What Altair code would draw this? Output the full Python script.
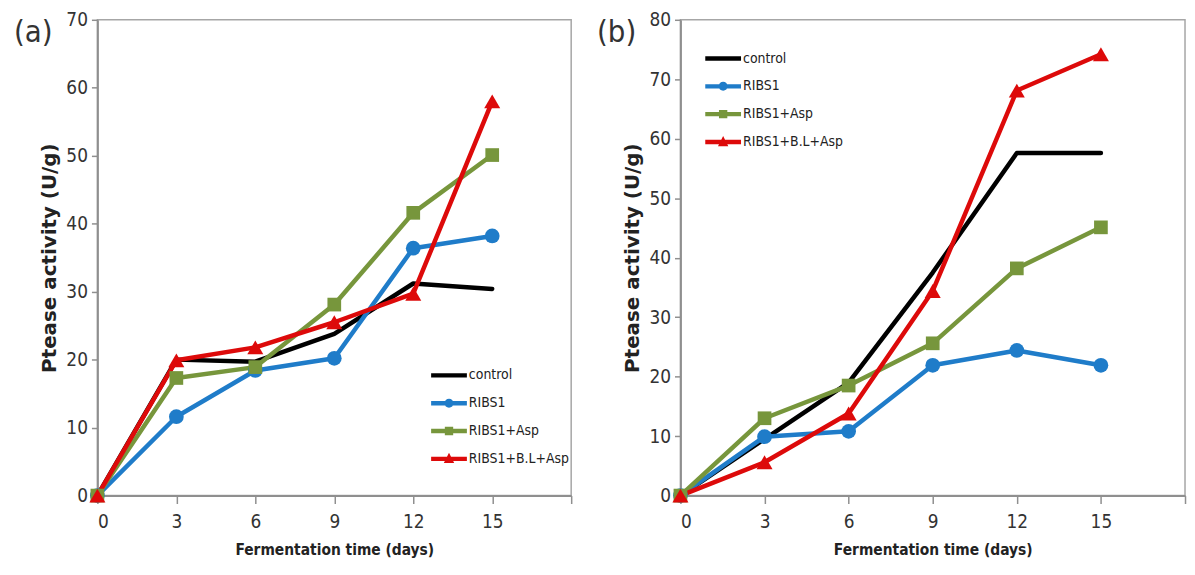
import altair as alt
import pandas as pd

# ---- data ----
days = [0, 3, 6, 9, 12, 15]
series_names = ["control", "RIBS1", "RIBS1+Asp", "RIBS1+B.L+Asp"]
series_colors = ["#000000", "#1f7cc9", "#77963c", "#dd0a0a"]
panel_labels = ["(a)", "(b)"]
x_ticks = [0, 3, 6, 9, 12, 15, 18]

a_control = [0, 20.0, 19.7, 23.8, 31.2, 30.4]
a_ribs1 = [0, 11.6, 18.4, 20.2, 36.4, 38.2]
a_asp = [0, 17.3, 18.9, 28.1, 41.6, 50.1]
a_bl = [0, 19.9, 21.8, 25.5, 29.7, 58.0]

b_control = [0, 9.5, 19.0, 37.5, 57.6, 57.6]
b_ribs1 = [0, 9.9, 10.8, 21.9, 24.4, 21.9]
b_asp = [0, 13.0, 18.5, 25.6, 38.2, 45.1]
b_bl = [0, 5.6, 13.8, 34.4, 68.1, 74.2]

NARROW = "Liberation Sans Narrow, DejaVu Sans Condensed, Arial Narrow, Liberation Sans, sans-serif"
WIDE_BOLD = "DejaVu Sans, Verdana, sans-serif"

# legend symbols: a thick line with the series' marker
LEG_LINE = "M-1.8,-0.22H1.8V0.22H-1.8Z"
legend_paths = [
    LEG_LINE,
    LEG_LINE + "M0.45,0A0.45,0.45,0,1,1,-0.45,0A0.45,0.45,0,1,1,0.45,0Z",
    LEG_LINE + "M-0.42,-0.42H0.42V0.42H-0.42Z",
    LEG_LINE + "M0,-0.6L0.52,0.42H-0.52Z",
]
marker_shapes = {"control": None, "RIBS1": ("circle", 220), "RIBS1+Asp": ("square", 190),
                 "RIBS1+B.L+Asp": ("triangle-up", 260)}


def long_df(values_by_series):
    rows = []
    for name, vals in zip(series_names, values_by_series):
        for d, v in zip(days, vals):
            rows.append({"day": d, "value": v, "series": name})
    return pd.DataFrame(rows)


def panel(df, ymax, label, leg_x, leg_y, width, height):
    x = alt.X(
        "day:Q",
        scale=alt.Scale(domain=[0, 18], nice=False),
        axis=alt.Axis(
            values=x_ticks,
            labelExpr="datum.value > 15 ? '' : datum.label",
            grid=False,
            title="Fermentation time (days)",
            titleFont=NARROW,
            titleFontSize=15.5,
            titleFontWeight="bold",
            titleColor="#222222",
            titlePadding=11,
            labelFont=NARROW,
            labelFontSize=19,
            labelColor="#333333",
            labelPadding=9,
            tickSize=8,
            tickColor="#8f8f8f",
            tickWidth=1.5,
            domainColor="#8f8f8f",
            domainWidth=2,
        ),
    )
    y = alt.Y(
        "value:Q",
        scale=alt.Scale(domain=[0, ymax], nice=False),
        axis=alt.Axis(
            values=list(range(0, ymax + 1, 10)),
            grid=False,
            title="Ptease activity (U/g)",
            titleFont=WIDE_BOLD,
            titleFontSize=20,
            titleFontWeight="bold",
            titleColor="#222222",
            titlePadding=6,
            labelFont=NARROW,
            labelFontSize=19,
            labelColor="#333333",
            labelPadding=4,
            tickSize=6,
            tickColor="#8f8f8f",
            tickWidth=1.5,
            domainColor="#8f8f8f",
            domainWidth=2,
        ),
    )
    base = alt.Chart(df)
    layers = []
    for name, col in zip(series_names, series_colors):
        sub = base.transform_filter(alt.datum.series == name)
        layers.append(
            sub.mark_line(color=col, strokeWidth=4.5, strokeJoin="round", strokeCap="round")
            .encode(x=x, y=y, order="day:Q")
        )
    for name, col in zip(series_names, series_colors):
        spec = marker_shapes[name]
        if spec is None:
            continue
        shp, sz = spec
        layers.append(
            base.transform_filter(alt.datum.series == name)
            .mark_point(filled=True, shape=shp, size=sz, opacity=1, color=col)
            .encode(x=x, y=y)
        )
    leg = alt.Legend(
        orient="none",
        legendX=leg_x,
        legendY=leg_y,
        title=None,
        symbolSize=400,
        symbolOpacity=1,
        symbolStrokeWidth=0,
        labelFont=NARROW,
        labelFontSize=14,
        labelColor="#222222",
        labelOffset=10,
        rowPadding=11,
        padding=0,
    )
    legend_layer = base.mark_point(filled=True, opacity=0).encode(
        x=x, y=y,
        color=alt.Color("series:N", scale=alt.Scale(domain=series_names, range=series_colors), legend=leg),
        shape=alt.Shape("series:N", scale=alt.Scale(domain=series_names, range=legend_paths), legend=leg),
    )
    layers.append(legend_layer)
    tag = alt.Chart(pd.DataFrame({"t": [label]})).mark_text(
        align="left", baseline="top", font=NARROW, fontSize=31, color="#333333"
    ).encode(x=alt.value(-84), y=alt.value(-2), text="t:N")
    layers.append(tag)
    return alt.layer(*layers).properties(width=width, height=height)


left = panel(long_df([a_control, a_ribs1, a_asp, a_bl]), 70, panel_labels[0], 344, 348, 477, 479)
right = panel(long_df([b_control, b_ribs1, b_asp, b_bl]), 80, panel_labels[1], 33, 29, 508, 479)

chart = (
    alt.hconcat(left, right, spacing=23)
    .resolve_scale(color="independent", shape="independent")
    .configure_view(stroke="#a6a6a6", strokeWidth=1.5)
    .properties(padding={"left": 5, "top": 0, "right": 0, "bottom": 0}, background="white")
)

chart.save("out.html", embed_options={"renderer": "svg", "actions": False})
